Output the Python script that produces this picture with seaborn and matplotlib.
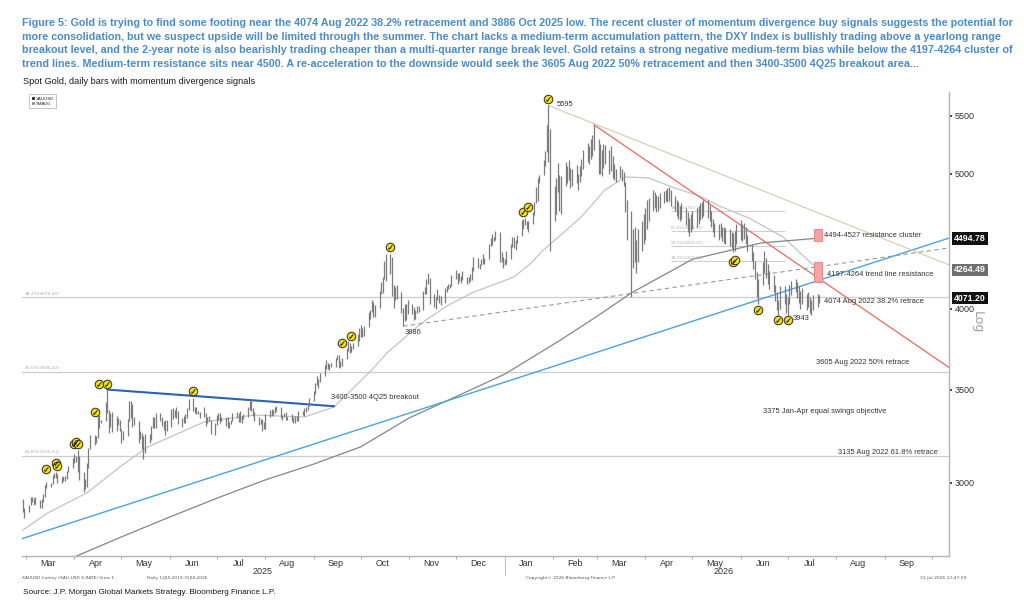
import pandas as pd
import matplotlib
matplotlib.use("Agg")
import matplotlib.pyplot as plt
import matplotlib.dates as mdates
from matplotlib.patches import Patch, Rectangle
from matplotlib.ticker import FixedLocator, FixedFormatter, NullLocator
import seaborn as sns

sns.set_theme(style="white")
plt.rcParams["font.family"] = ["Liberation Sans Narrow", "Liberation Sans", "DejaVu Sans"]

# daily bars, low / high per trading day, one pair of lists per month
lo_2025_02 = [2860, 2832]
hi_2025_02 = [2920, 2880]
lo_2025_03 = [2858, 2893, 2905, 2894, 2896, 2880, 2880, 2905, 2930, 2975, 2982, 2995, 3025, 3025, 2999, 3000, 3010, 3010, 3020, 3055, 3076]
hi_2025_03 = [2895, 2930, 2930, 2926, 2930, 2915, 2920, 2945, 2990, 3005, 3001, 3038, 3048, 3057, 3045, 3030, 3035, 3033, 3060, 3087, 3128]
lo_2025_04 = [3100, 3105, 3054, 3015, 2957, 2970, 2980, 3073, 3175, 3193, 3205, 3229, 3284, 3310, 3325, 3367, 3260, 3288, 3265, 3268, 3300, 3268]
hi_2025_04 = [3149, 3135, 3167, 3135, 3055, 3022, 3099, 3176, 3245, 3245, 3240, 3357, 3357, 3330, 3430, 3500, 3386, 3367, 3371, 3352, 3340, 3328]
lo_2025_05 = [3202, 3222, 3240, 3325, 3340, 3290, 3300, 3207, 3228, 3171, 3121, 3153, 3205, 3220, 3285, 3285, 3287, 3323, 3295, 3276, 3245, 3271]
hi_2025_05 = [3280, 3270, 3335, 3437, 3434, 3415, 3345, 3325, 3266, 3260, 3240, 3252, 3250, 3295, 3345, 3345, 3366, 3365, 3345, 3325, 3330, 3326]
lo_2025_06 = [3290, 3334, 3345, 3339, 3305, 3292, 3312, 3311, 3340, 3386, 3380, 3366, 3362, 3362, 3340, 3347, 3295, 3312, 3322, 3255, 3247]
hi_2025_06 = [3392, 3393, 3385, 3403, 3376, 3338, 3350, 3360, 3395, 3446, 3452, 3403, 3398, 3376, 3375, 3398, 3368, 3345, 3350, 3330, 3310]
lo_2025_07 = [3300, 3327, 3310, 3322, 3296, 3287, 3283, 3309, 3321, 3340, 3320, 3319, 3310, 3335, 3345, 3383, 3381, 3351, 3325, 3301, 3308, 3268, 3282]
hi_2025_07 = [3358, 3365, 3365, 3345, 3343, 3345, 3317, 3330, 3369, 3375, 3366, 3377, 3352, 3361, 3402, 3433, 3439, 3393, 3373, 3345, 3334, 3334, 3315]
lo_2025_08 = [3281, 3345, 3352, 3358, 3367, 3377, 3341, 3331, 3344, 3330, 3331, 3323, 3311, 3314, 3325, 3321, 3358, 3351, 3371, 3386, 3406]
hi_2025_08 = [3363, 3385, 3390, 3385, 3400, 3409, 3401, 3358, 3368, 3375, 3347, 3359, 3345, 3350, 3351, 3379, 3377, 3393, 3398, 3423, 3453]
lo_2025_09 = [3436, 3472, 3525, 3511, 3543, 3577, 3620, 3620, 3613, 3630, 3635, 3675, 3632, 3628, 3640, 3680, 3730, 3717, 3722, 3740, 3760, 3793]
hi_2025_09 = [3489, 3540, 3578, 3563, 3600, 3646, 3674, 3656, 3650, 3655, 3685, 3703, 3707, 3670, 3690, 3749, 3791, 3778, 3761, 3782, 3835, 3872]
lo_2025_10 = [3820, 3820, 3823, 3883, 3930, 3980, 3945, 3947, 4003, 4097, 4107, 4200, 4186, 4237, 4082, 4004, 4060, 4065, 3971, 3886, 3918, 3925, 3966]
hi_2025_10 = [3895, 3875, 3890, 3977, 3990, 4059, 4045, 4022, 4117, 4179, 4218, 4330, 4380, 4381, 4360, 4161, 4146, 4160, 4112, 4005, 4030, 4030, 4055]
lo_2025_11 = [3964, 3928, 3930, 3970, 3980, 3990, 4100, 4095, 4170, 4030, 4010, 4000, 4060, 4040, 4025, 4040, 4110, 4130, 4140, 4150]
hi_2025_11 = [4030, 4012, 3990, 4020, 4020, 4120, 4148, 4200, 4245, 4210, 4100, 4080, 4130, 4090, 4085, 4140, 4155, 4170, 4165, 4230]
lo_2025_12 = [4200, 4170, 4190, 4175, 4195, 4170, 4175, 4190, 4195, 4260, 4280, 4270, 4300, 4310, 4310, 4340, 4440, 4445, 4470, 4480, 4320, 4320, 4275]
hi_2025_12 = [4265, 4240, 4240, 4225, 4260, 4215, 4218, 4235, 4285, 4353, 4350, 4310, 4345, 4375, 4350, 4450, 4498, 4525, 4500, 4550, 4540, 4390, 4360]
lo_2026_01 = [4300, 4310, 4340, 4430, 4420, 4410, 4460, 4510, 4560, 4590, 4560, 4540, 4600, 4670, 4760, 4780, 4920, 4990, 5060, 5180, 5100, 4400]
hi_2026_01 = [4340, 4400, 4450, 4500, 4500, 4480, 4515, 4630, 4635, 4645, 4625, 4620, 4690, 4770, 4890, 4960, 4990, 5110, 5190, 5420, 5595, 5380]
lo_2026_02 = [4620, 4680, 4850, 4700, 4680, 4900, 4920, 4950, 4880, 4900, 4920, 4870, 4930, 4980, 5040, 5100, 5080, 5120, 5150, 5200]
hi_2026_02 = [4900, 4960, 5090, 4990, 4980, 5100, 5060, 5110, 5050, 5040, 5070, 5000, 5060, 5120, 5200, 5260, 5230, 5290, 5330, 5420]
lo_2026_03 = [5000, 5000, 4980, 5050, 5080, 5000, 5020, 4960, 4950, 4930, 4960, 4940, 4900, 4690, 4480, 4080, 4280, 4320, 4240, 4320, 4400, 4450]
hi_2026_03 = [5290, 5250, 5200, 5250, 5240, 5200, 5230, 5150, 5080, 5040, 5060, 5040, 5010, 4930, 4790, 4700, 4560, 4580, 4480, 4560, 4620, 4680]
lo_2026_04 = [4480, 4560, 4620, 4700, 4720, 4690, 4700, 4720, 4760, 4780, 4770, 4780, 4740, 4700, 4660, 4640, 4620, 4640, 4590, 4540, 4510, 4540]
hi_2026_04 = [4720, 4790, 4800, 4866, 4850, 4830, 4820, 4840, 4860, 4870, 4880, 4890, 4870, 4820, 4790, 4770, 4740, 4760, 4720, 4690, 4650, 4680]
lo_2026_05 = [4560, 4580, 4600, 4630, 4650, 4660, 4650, 4620, 4580, 4540, 4500, 4480, 4500, 4470, 4460, 4450, 4440, 4420, 4390, 4400, 4450]
hi_2026_05 = [4700, 4720, 4740, 4760, 4770, 4790, 4790, 4750, 4700, 4640, 4610, 4600, 4610, 4580, 4580, 4570, 4560, 4540, 4530, 4550, 4600]
lo_2026_06 = [4480, 4470, 4490, 4450, 4400, 4330, 4270, 4200, 4080, 4030, 4160, 4240, 4210, 4170, 4130, 4110, 4050, 3990, 3943, 4000, 4030, 3970]
hi_2026_06 = [4630, 4600, 4610, 4580, 4520, 4450, 4390, 4330, 4250, 4200, 4320, 4400, 4350, 4310, 4260, 4230, 4160, 4110, 4060, 4150, 4150, 4100]
lo_2026_07 = [3950, 4030, 4090, 4110, 4070, 4040, 4000, 4030, 3990, 4010, 3970, 3960, 3990, 4010, 4040]
hi_2026_07 = [4080, 4160, 4190, 4200, 4180, 4150, 4120, 4140, 4100, 4110, 4080, 4060, 4090, 4100, 4090]

# simple moving averages
sma50_dates = ["2025-02-26", "2025-03-15", "2025-04-09", "2025-04-30", "2025-05-18", "2025-06-23",
               "2025-07-25", "2025-08-26", "2025-09-14", "2025-10-08", "2025-10-18", "2025-11-09",
               "2025-11-25", "2025-12-11", "2025-12-28", "2026-01-07", "2026-01-18", "2026-01-25",
               "2026-02-02", "2026-02-19", "2026-03-06", "2026-03-19", "2026-04-03", "2026-04-18",
               "2026-05-07", "2026-05-18", "2026-06-06", "2026-06-28", "2026-07-15", "2026-07-21"]
sma50_vals = [2770, 2855, 2951, 3080, 3184, 3318, 3356, 3345, 3401, 3615, 3720, 3907, 4018, 4106,
              4174, 4216, 4314, 4400, 4479, 4655, 4866, 4972, 4964, 4890, 4811, 4740, 4647, 4503,
              4321, 4264.49]
sma200_dates = ["2025-02-26", "2025-04-01", "2025-05-01", "2025-06-01", "2025-07-01", "2025-08-01",
                "2025-09-01", "2025-10-01", "2025-11-01", "2025-12-01", "2026-01-01", "2026-02-05",
                "2026-03-01", "2026-03-23", "2026-05-01", "2026-06-14", "2026-07-21"]
sma200_vals = [2580, 2655, 2744, 2836, 2925, 3015, 3095, 3184, 3340, 3460, 3590, 3794,
               3950, 4106, 4340, 4459, 4494.78]

# momentum divergence signals
signal_dates = ["2025-03-14", "2025-03-20", "2025-03-21", "2025-04-01", "2025-04-02", "2025-04-03",
                "2025-04-14", "2025-04-17", "2025-04-22", "2025-06-16", "2025-09-19", "2025-09-25",
                "2025-10-20", "2026-01-13", "2026-01-16", "2026-01-29", "2026-05-27", "2026-05-28",
                "2026-06-12", "2026-06-25", "2026-07-01"]
signal_prices = [3070, 3101, 3085, 3200, 3210, 3200, 3373, 3533, 3533, 3492, 3780, 3824,
                 4430, 4693, 4732, 5656, 4321, 4335, 3992, 3926, 3926]

# trend lines (start, end)
blue_trend = (["2025-02-26", "2026-10-12"], [2735, 4494.78])
breakout_line = (["2025-04-22", "2025-09-14"], [3500, 3405])
red_trend = (["2026-02-27", "2026-10-12"], [5420, 3630])
tan_trend = (["2026-01-29", "2026-10-12"], [5595, 4300])
dashed_trend = (["2025-10-28", "2026-10-12"], [3886, 4422])

fib_levels = [4074.92, 3605.22, 3135.51]
fib_labels = ["38.2%(4074.92)", "50.0%(3605.22)", "61.8%(3135.51)"]
mini_fib_levels = [4700.15, 4544.01, 4434.33, 4324.65]
mini_fib_labels = ["78.6%(4700.15)", "61.8%(4544.01)", "50.0%(4434.33)", "38.2%(4324.65)"]
zones = [(4472, 4562), (4177, 4321)]

tags = [("4494.78", 4494.78, "#111111"), ("4264.49", 4264.49, "#6e6e6e"), ("4071.20", 4071.20, "#111111")]
ytick_vals = [3000, 3500, 4000, 5000, 5500]

title_lines = [
    "Figure 5: Gold is trying to find some footing near the 4074 Aug 2022 38.2% retracement and 3886 Oct 2025 low. The recent cluster of momentum divergence buy signals suggests the potential for",
    "more consolidation, but we suspect upside will be limited through the summer. The chart lacks a medium-term accumulation pattern, the DXY Index is bullishly trading above a yearlong range",
    "breakout level, and the 2-year note is also bearishly trading cheaper than a multi-quarter range break level. Gold retains a strong negative medium-term bias while below the 4197-4264 cluster of",
    "trend lines. Medium-term resistance sits near 4500. A re-acceleration to the downside would seek the 3605 Aug 2022 50% retracement and then 3400-3500 4Q25 breakout area...",
]

bar_months = [
    ("2025-02-27", lo_2025_02, hi_2025_02), ("2025-03-01", lo_2025_03, hi_2025_03),
    ("2025-04-01", lo_2025_04, hi_2025_04), ("2025-05-01", lo_2025_05, hi_2025_05),
    ("2025-06-01", lo_2025_06, hi_2025_06), ("2025-07-01", lo_2025_07, hi_2025_07),
    ("2025-08-01", lo_2025_08, hi_2025_08), ("2025-09-01", lo_2025_09, hi_2025_09),
    ("2025-10-01", lo_2025_10, hi_2025_10), ("2025-11-01", lo_2025_11, hi_2025_11),
    ("2025-12-01", lo_2025_12, hi_2025_12), ("2026-01-01", lo_2026_01, hi_2026_01),
    ("2026-02-01", lo_2026_02, hi_2026_02), ("2026-03-01", lo_2026_03, hi_2026_03),
    ("2026-04-01", lo_2026_04, hi_2026_04), ("2026-05-01", lo_2026_05, hi_2026_05),
    ("2026-06-01", lo_2026_06, hi_2026_06), ("2026-07-01", lo_2026_07, hi_2026_07),
]
frames = []
for start, lo, hi in bar_months:
    days = pd.bdate_range(start, periods=len(lo))
    frames.append(pd.DataFrame({"date": days, "low": lo, "high": hi}))
bars = pd.concat(frames, ignore_index=True)

W, H = 1024, 606
fig = plt.figure(figsize=(W / 100, H / 100), dpi=100)
fig.patch.set_facecolor("white")
ax = fig.add_axes([22 / W, 50 / H, 927 / W, 464 / H])
ax.set_facecolor("white")
ax.set_yscale("log")
x0, x1 = pd.Timestamp("2025-02-26 12:00"), pd.Timestamp("2026-10-12")
ax.set_xlim(x0, x1)
ax.set_ylim(2659, 5721)

def px(x, y):
    return x / W, 1 - y / H

# fib levels
for lvl, lab in zip(fib_levels, fib_labels):
    ax.axhline(lvl, color="#cdcdcd", lw=0.9, zorder=1)
    ax.text(pd.Timestamp("2025-02-28"), lvl * 1.003, lab, fontsize=3.2, color="#a8a8a8",
            va="bottom", ha="left", family=["DejaVu Sans"])
m0, m1 = pd.Timestamp("2026-04-17"), pd.Timestamp("2026-06-29")
ax.hlines(mini_fib_levels, m0, m1, color="#cfcfcf", lw=0.8, zorder=1)
for lvl, lab in zip(mini_fib_levels, mini_fib_labels):
    ax.text(m0, lvl * 1.002, lab, fontsize=3.0, color="#b0b0b0", va="bottom", ha="left",
            family=["DejaVu Sans"])

# moving averages
sns.lineplot(x=pd.to_datetime(sma50_dates), y=sma50_vals, ax=ax, color="#c4c4c4", lw=0.9, zorder=2)
sns.lineplot(x=pd.to_datetime(sma200_dates), y=sma200_vals, ax=ax, color="#858585", lw=0.9, zorder=2)

# trend lines
sns.lineplot(x=pd.to_datetime(blue_trend[0]), y=blue_trend[1], ax=ax, color="#4aa3e0", lw=1.0, zorder=3)
sns.lineplot(x=pd.to_datetime(breakout_line[0]), y=breakout_line[1], ax=ax, color="#2f62b0", lw=1.5, zorder=3)
sns.lineplot(x=pd.to_datetime(red_trend[0]), y=red_trend[1], ax=ax, color="#ea6a60", lw=0.9, zorder=3)
sns.lineplot(x=pd.to_datetime(tan_trend[0]), y=tan_trend[1], ax=ax, color="#d9cfb6", lw=0.9, zorder=3)
sns.lineplot(x=pd.to_datetime(dashed_trend[0]), y=dashed_trend[1], ax=ax, color="#9a9a9a", lw=0.8,
             linestyle=(0, (4, 3)), zorder=3)

# daily bars
ax.vlines(bars["date"], bars["low"], bars["high"], color="#7c7c7c", lw=0.9, zorder=4)

# resistance zones
z0, z1 = mdates.date2num(pd.Timestamp("2026-07-18")), mdates.date2num(pd.Timestamp("2026-07-23"))
for lo, hi in zones:
    ax.add_patch(Rectangle((z0, lo), z1 - z0, hi - lo, facecolor="#f4a4a4", edgecolor="#e37b7b",
                           lw=0.6, zorder=5))

# signals
sig = pd.DataFrame({"date": pd.to_datetime(signal_dates), "price": signal_prices})
ax.scatter(sig["date"], sig["price"], s=38, c="#f2de14", edgecolors="#2a2a2a", linewidths=0.7, zorder=6)
ax.scatter(sig["date"], sig["price"], s=9, marker=r"$\checkmark$", c="#1a1a1a", linewidths=0.2, zorder=7)

# annotations
ann = [
    ("2026-07-24", 4511, "4494-4527 resistance cluster"),
    ("2026-07-26", 4235, "4197-4264 trend line resistance"),
    ("2026-07-24", 4050, "4074 Aug 2022 38.2% retrace"),
    ("2026-07-04", 3935, "3943"),
    ("2026-07-19", 3660, "3605 Aug 2022 50% retrace"),
    ("2026-06-15", 3375, "3375 Jan-Apr equal swings objective"),
    ("2026-08-02", 3152, "3135 Aug 2022 61.8% retrace"),
    ("2025-09-12", 3452, "3400-3500 4Q25 breakout"),
    ("2025-10-29", 3843, "3886"),
    ("2026-02-03", 5600, "5595"),
]
ann_texts = [ax.text(pd.Timestamp(d), v, s, fontsize=6, color="#333333", va="center", ha="left",
                     family=["Liberation Sans", "DejaVu Sans"], zorder=8) for d, v, s in ann]

# axes styling
for side in ["top", "left"]:
    ax.spines[side].set_visible(False)
for side in ["right", "bottom"]:
    ax.spines[side].set_color("#b5b5b5")
    ax.spines[side].set_linewidth(1.0)
ax.yaxis.tick_right()
ax.yaxis.set_major_locator(FixedLocator(ytick_vals))
ax.yaxis.set_major_formatter(FixedFormatter([str(v) for v in ytick_vals]))
ax.yaxis.set_minor_locator(NullLocator())
ax.tick_params(axis="y", which="major", right=True, length=2, width=1.3, pad=2, labelsize=6.5,
               colors="#333333")
ax.xaxis.set_major_locator(mdates.MonthLocator(bymonthday=15))
ax.xaxis.set_major_formatter(mdates.DateFormatter("%b"))
ax.xaxis.set_minor_locator(mdates.MonthLocator())
ax.tick_params(axis="x", which="major", bottom=True, length=0, pad=2, labelsize=6.5, colors="#333333")
ax.tick_params(axis="x", which="minor", bottom=True, length=2.5, width=0.6, color="#999999")
ax.set_xlabel("")
ax.set_ylabel("")
ax.grid(False)

# right-hand value tags
for txt, val, col in tags:
    ax.annotate(txt, xy=(1, val), xycoords=ax.get_yaxis_transform(), xytext=(3.5, 0),
                textcoords="offset points", ha="left", va="center", fontsize=6.3, color="white",
                fontweight="bold", family=["Liberation Sans", "DejaVu Sans"], zorder=9,
                bbox=dict(boxstyle="square,pad=0.22", fc=col, ec="none"), annotation_clip=False)
fig.text(*px(977, 322), "Log", rotation=270, color="#a0a0a0", fontsize=9, ha="center", va="center",
         family=["DejaVu Sans"])

# legend
leg = ax.legend(handles=[Patch(facecolor="black"), Patch(facecolor="#7a7a7a")], labels=["XAUUSD", "SMAVG"],
                loc="upper left", bbox_to_anchor=(5 / 927, 1.0), fontsize=3.2, handlelength=0.7,
                handleheight=0.7, handletextpad=0.3, labelspacing=0.2, borderpad=0.5, frameon=True,
                fancybox=True, edgecolor="#9a9a9a")
leg.get_frame().set_linewidth(0.5)

# year labels and separator
sep = mdates.date2num(pd.Timestamp("2026-01-01"))
ax.plot([sep, sep], [0, -0.042], transform=ax.get_xaxis_transform(), color="#c0c0c0", lw=0.8, clip_on=False)
fig.text(*px(263, 572), "2025", ha="center", va="center", fontsize=6.5, color="#333333")
fig.text(*px(724, 572), "2026", ha="center", va="center", fontsize=6.5, color="#333333")

# titles and footers
tt = [fig.text(*px(22, 23 + 13.7 * i), line, ha="left", va="center", fontsize=9, fontweight="bold",
               color="#4a8cc9") for i, line in enumerate(title_lines)]
sub = fig.text(*px(23, 82), "Spot Gold, daily bars with momentum divergence signals", ha="left",
               va="center", fontsize=8, color="#1a1a1a")
src = fig.text(*px(23, 593), "Source: J.P. Morgan Global Markets Strategy. Bloomberg Finance L.P.",
               ha="left", va="center", fontsize=8, color="#1a1a1a")
foot_kw = dict(ha="left", va="center", fontsize=3.2, color="#555555", family=["DejaVu Sans"])
fig.text(*px(22, 578), "XAUUSD Curncy (XAU-USD X-RATE) View 1", **foot_kw)
fig.text(*px(147, 578), "Daily 12JUL2019-31JUL2026", **foot_kw)
fig.text(*px(526, 578), "Copyright\u00a9 2026 Bloomberg Finance L.P.", **foot_kw)
fig.text(*px(920, 578), "31-Jul-2026 12:47:59", **foot_kw)

# fit text widths to the reference
fig.canvas.draw()
r = fig.canvas.get_renderer()
def fit(t, width_px):
    w = t.get_window_extent(renderer=r).width
    return t.get_fontsize() * width_px / w
fs = fit(tt[0], 986)
for t in tt:
    t.set_fontsize(fs)
sub.set_fontsize(fit(sub, 231))
src.set_fontsize(fit(src, 253))
afs = fit(ann_texts[0], 97)
for t in ann_texts:
    t.set_fontsize(afs)

fig.savefig("out.png", dpi=100, facecolor="white")
